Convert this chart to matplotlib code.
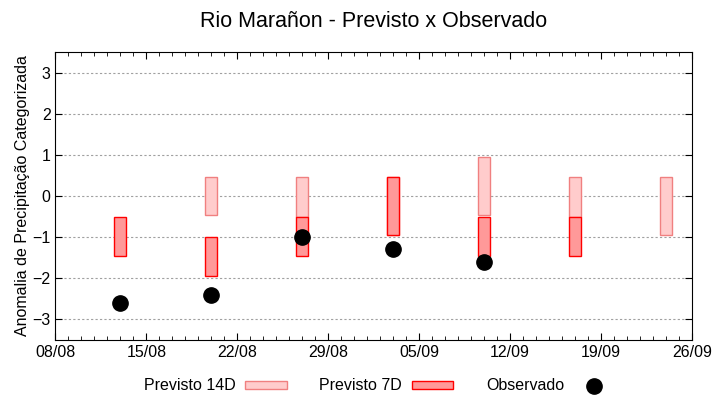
import matplotlib
matplotlib.use("Agg")
import matplotlib.pyplot as plt
import matplotlib.dates as mdates
from matplotlib.patches import Patch
from matplotlib.lines import Line2D
import pandas as pd

plt.rcParams["font.family"] = ["Liberation Sans", "DejaVu Sans"]

# dados
datas = pd.to_datetime(["2019-08-13", "2019-08-20", "2019-08-27", "2019-09-03",
                        "2019-09-10", "2019-09-17", "2019-09-24"])
prev14_min = [None, -0.45, -0.5, -0.95, -0.45, -0.5, -0.95]
prev14_max = [None, 0.45, 0.45, 0.45, 0.95, 0.45, 0.45]
prev7_min = [-1.45, -1.95, -1.45, -0.95, -1.45, -1.45, None]
prev7_max = [-0.5, -1.0, -0.5, 0.45, -0.5, -0.5, None]
obs_datas = datas[:5]
observado = [-2.6, -2.4, -1.0, -1.3, -1.6]

cor14_fill, cor14_edge = "#ffcccc", "#f08080"
cor7_fill, cor7_edge = "#ff9999", "#ff0000"

fig, ax = plt.subplots(figsize=(7.2, 4), dpi=100)
fig.subplots_adjust(left=0.077, right=0.961, top=0.87, bottom=0.15)

largura = pd.Timedelta(hours=22)
for d, lo, hi in zip(datas, prev14_min, prev14_max):
    if lo is None:
        continue
    ax.bar(d, hi - lo, bottom=lo, width=largura, color=cor14_fill,
           edgecolor=cor14_edge, linewidth=1, zorder=2)
for d, lo, hi in zip(datas, prev7_min, prev7_max):
    if lo is None:
        continue
    ax.bar(d, hi - lo, bottom=lo, width=largura, color=cor7_fill,
           edgecolor=cor7_edge, linewidth=1, zorder=3)
ax.plot(obs_datas, observado, "o", color="black", markersize=11, zorder=4)

ax.set_xlim(pd.Timestamp("2019-08-08"), pd.Timestamp("2019-09-26"))
ax.set_ylim(-3.5, 3.5)
ax.set_yticks([-3, -2, -1, 0, 1, 2, 3])
ax.set_xticks(pd.date_range("2019-08-08", "2019-09-26", freq="7D"))
ax.xaxis.set_major_formatter(mdates.DateFormatter("%d/%m"))
ax.xaxis.set_minor_locator(mdates.DayLocator())
ax.tick_params(axis="both", direction="in", top=True, right=True, labelsize=11.5,
               length=5, color="black")
ax.tick_params(axis="x", which="minor", direction="in", top=True, length=3)
ax.grid(axis="y", linestyle=(0, (2, 2)), color="#a0a0a0", linewidth=0.8, zorder=0)
ax.set_axisbelow(True)

ax.set_title("Rio Marañon - Previsto x Observado", fontsize=15.5, pad=18)
ax.set_ylabel("Anomalia de Precipitação Categorizada", fontsize=11.5, labelpad=2)

handles = [Patch(facecolor=cor14_fill, edgecolor=cor14_edge),
           Patch(facecolor=cor7_fill, edgecolor=cor7_edge),
           Line2D([], [], marker="o", color="black", linestyle="none", markersize=11)]
fig.legend(handles, ["Previsto 14D", "Previsto 7D", "Observado"], loc="center",
           ncol=3, frameon=False, markerfirst=False, fontsize=11.5,
           bbox_to_anchor=(0.527, 0.035), handlelength=2.6, handleheight=0.4,
           handletextpad=0.6, columnspacing=2.05)

fig.savefig("out.png")
